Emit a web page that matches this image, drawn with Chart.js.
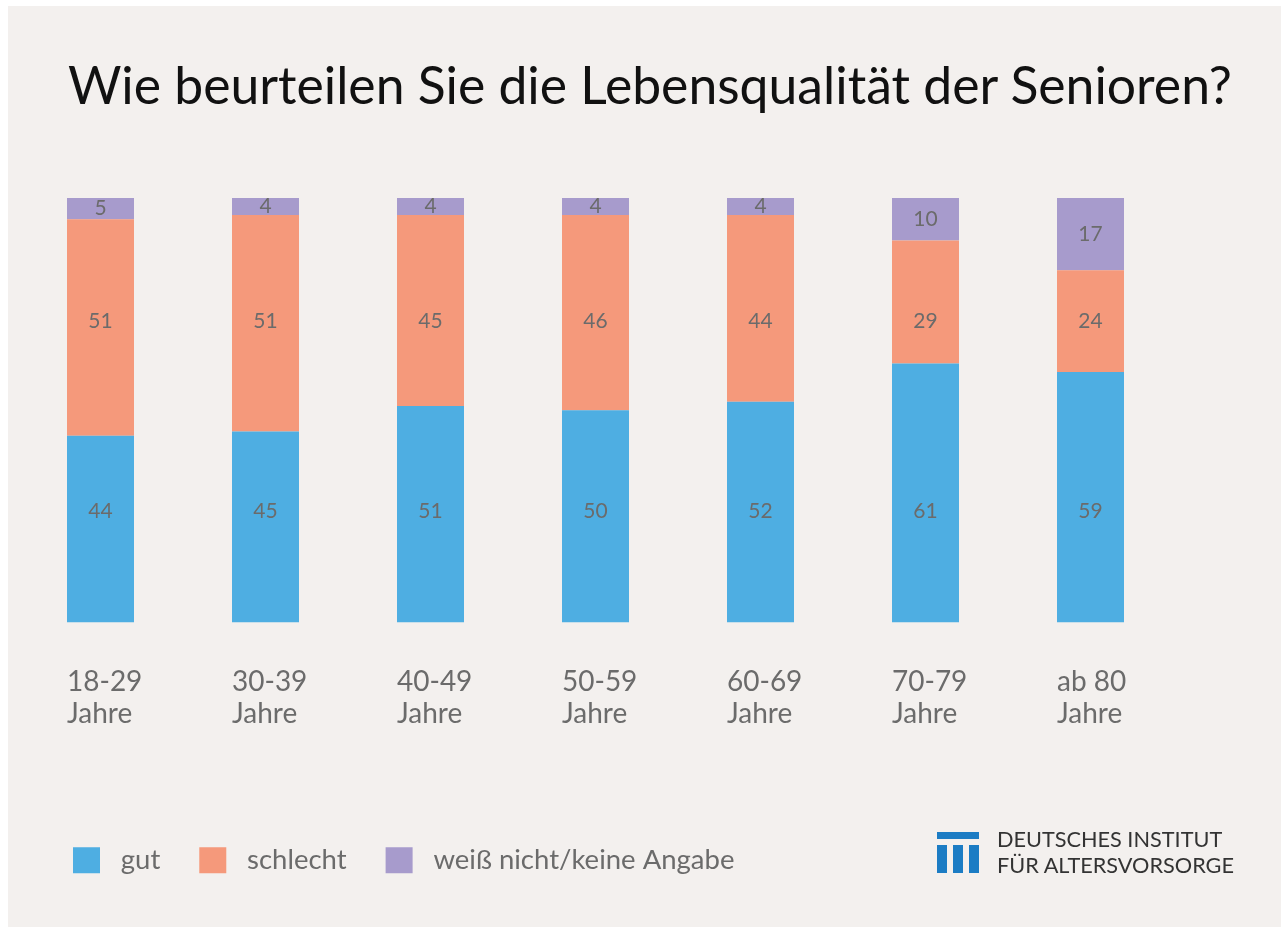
<!DOCTYPE html>
<html>
<head>
<meta charset="utf-8">
<script src="https://cdn.jsdelivr.net/npm/chart.js@4.4.1/dist/chart.umd.min.js"></script>
<style>
  body { margin: 0; background: #ffffff; width: 1281px; height: 927px; overflow: hidden; font-family: Lato, sans-serif; }
  #panel { position: absolute; left: 8px; top: 6px; width: 1273px; height: 921px; background: #f3f0ee; }
  #title { position: absolute; left: 68px; top: 59px; font-size: 50px; line-height: 50px; color: #111; white-space: nowrap; }
  #chartBox { position: absolute; left: 0; top: 0; width: 1281px; height: 927px; }
  .logoBar { position: absolute; background: #1b7cc4; }
  #logoText { position: absolute; left: 997px; top: 826px; font-size: 21.7px; line-height: 26px; color: #333; white-space: nowrap; }
</style>
</head>
<body>
<div id="panel"></div>
<div id="title">Wie beurteilen Sie die Lebensqualität der Senioren?</div>
<div id="chartBox"><canvas id="qualityChart" width="1281" height="927"></canvas></div>
<div class="logoBar" style="left:937px;top:832px;width:42px;height:7px"></div>
<div class="logoBar" style="left:937px;top:845px;width:10px;height:28px"></div>
<div class="logoBar" style="left:953px;top:845px;width:10px;height:28px"></div>
<div class="logoBar" style="left:969px;top:845px;width:10px;height:28px"></div>
<div id="logoText">DEUTSCHES INSTITUT<br>FÜR ALTERSVORSORGE</div>

<script>
// data
const ageGroups = [
    ['18-29', 'Jahre'], ['30-39', 'Jahre'], ['40-49', 'Jahre'], ['50-59', 'Jahre'],
    ['60-69', 'Jahre'], ['70-79', 'Jahre'], ['ab 80', 'Jahre']
];
const gutValues      = [44, 45, 51, 50, 52, 61, 59];
const schlechtValues = [51, 51, 45, 46, 44, 29, 24];
const keineValues    = [5, 4, 4, 4, 4, 10, 17];
const seriesNames    = ['gut', 'schlecht', 'weiß nicht/keine Angabe'];

// fit title width to the reference
const titleEl = document.getElementById('title');
const wantWidth = 1164;
titleEl.style.fontSize = (50 * wantWidth / titleEl.offsetWidth) + 'px';

// value labels inside the bars (gut / schlecht sit on a fixed line, last one centered)
const segmentLabels = {
    id: 'segmentLabels',
    afterDatasetsDraw(chart, args, opts) {
        const ctx = chart.ctx;
        const yScale = chart.scales.y;
        ctx.save();
        ctx.font = '21px Lato';
        ctx.fillStyle = '#6b6b6b';
        ctx.textAlign = 'center';
        ctx.textBaseline = 'middle';
        chart.data.datasets.forEach((ds, di) => {
            chart.getDatasetMeta(di).data.forEach((bar, i) => {
                const fixed = opts.fixedAt[di];
                const py = fixed != null ? yScale.getPixelForValue(fixed) : (bar.y + bar.base) / 2;
                ctx.fillText(ds.data[i], bar.x, py);
            });
        });
        ctx.restore();
    }
};

// move legend a bit right of the chart area start
const legendShift = {
    id: 'legendShift',
    afterLayout(chart, args, opts) {
        chart.legend.left += opts.dx;
        chart.legend.right += opts.dx;
    }
};

const defaultLegendLabels = Chart.defaults.plugins.legend.labels.generateLabels;

const ctx = document.getElementById('qualityChart');
const qualityChart = new Chart(ctx, {
    type: 'bar',
    data: {
        labels: ageGroups,
        datasets: [
            { label: seriesNames[0], data: gutValues, backgroundColor: '#4eaee2' },
            { label: seriesNames[1], data: schlechtValues, backgroundColor: '#f5997b' },
            { label: seriesNames[2], data: keineValues, backgroundColor: '#a79bcc' }
        ]
    },
    options: {
        responsive: false,
        maintainAspectRatio: false,
        animation: false,
        datasets: { bar: { categoryPercentage: 1, barPercentage: 67 / 165 } },
        layout: { padding: { left: 18, right: 108, top: 198, bottom: 43 } },
        scales: {
            x: {
                stacked: true,
                grid: { display: false, drawTicks: false },
                border: { display: false },
                ticks: {
                    autoSkip: false,
                    maxRotation: 0,
                    align: 'start',
                    labelOffset: -33.5,
                    padding: 43,
                    color: '#6b6b6b',
                    font: { family: 'Lato', size: 28, lineHeight: 1.15 }
                },
                afterFit(scale) { scale.height = 185; }
            },
            y: { stacked: true, display: false, min: 0, max: 100 }
        },
        plugins: {
            tooltip: { enabled: false },
            legend: {
                position: 'bottom',
                align: 'start',
                labels: {
                    boxWidth: 27,
                    boxHeight: 26,
                    padding: 39,
                    color: '#6b6b6b',
                    font: { family: 'Lato', size: 27.5 },
                    // small extra gap between swatch and text
                    generateLabels(chart) {
                        return defaultLegendLabels(chart).map(item => ({ ...item, text: ' ' + item.text }));
                    }
                }
            },
            legendShift: { dx: 16 },
            segmentLabels: { fixedAt: [26.2, 71, null] }
        }
    },
    plugins: [segmentLabels, legendShift]
});
</script>
</body>
</html>
